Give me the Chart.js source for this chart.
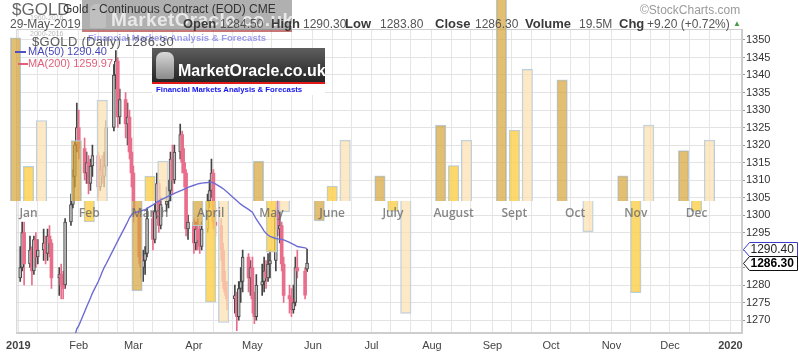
<!DOCTYPE html>
<html><head><meta charset="utf-8"><title>Gold seasonal</title>
<script src="https://cdn.jsdelivr.net/npm/chart.js@4.4.1/dist/chart.umd.min.js"></script>
<style>
html,body{margin:0;padding:0;background:#fff;}
#wrap{position:relative;width:799px;height:357px;overflow:hidden;background:#fff;font-family:"Liberation Sans",Arial,sans-serif;}
#c{position:absolute;left:0;top:0;width:799px;height:357px;}
.t{position:absolute;white-space:nowrap;line-height:1;}
.b{font-weight:bold;font-size:13px;color:#3a3a3a;}
.v{font-size:12px;color:#555;}
</style></head><body>
<div id="wrap">
<canvas id="c" width="799" height="357"></canvas>
<!-- faded logo (under header text) -->
<div class="t" style="left:82px;top:0px;width:210px;height:30px;background:rgba(80,80,80,0.45);border-bottom:2px solid rgba(225,60,60,0.5);"></div>
<div class="t" style="left:90px;top:4px;width:16px;height:24px;background:rgba(210,210,210,0.45);border-radius:6px 6px 2px 2px;"></div>
<div class="t" style="left:111px;top:10px;font-size:19px;font-weight:bold;color:rgba(255,255,255,0.72);letter-spacing:0.4px;">MarketOracle.co.uk</div>
<div class="t" style="left:88px;top:33px;font-size:9.5px;font-weight:bold;color:rgba(90,90,230,0.6);">Financial Markets Analysis &amp; Forecasts</div>
<!-- header text -->
<div class="t" style="left:12px;top:1px;font-size:17px;color:#666;">$GOLD</div>
<div class="t" style="left:63px;top:3px;font-size:12px;color:#333;">Gold - Continuous Contract (EOD) CME</div>
<div class="t" style="left:640px;top:4px;font-size:12px;color:#9a9a9a;">©StockCharts.com</div>
<div class="t" style="left:30px;top:14px;font-size:7px;color:rgba(140,140,140,0.6);">1960-2016</div>
<div class="t" style="left:30px;top:30px;font-size:7px;color:rgba(140,140,140,0.6);">2000-2016</div>
<div class="t v" style="left:10px;top:18px;">29-May-2019</div>
<div class="t b" style="left:183px;top:17px;">Open</div><div class="t v" style="left:220px;top:18px;">1284.50</div>
<div class="t b" style="left:271px;top:17px;">High</div><div class="t v" style="left:303px;top:18px;">1290.30</div>
<div class="t b" style="left:345px;top:17px;">Low</div><div class="t v" style="left:380px;top:18px;">1283.80</div>
<div class="t b" style="left:435px;top:17px;">Close</div><div class="t v" style="left:475px;top:18px;">1286.30</div>
<div class="t b" style="left:525px;top:17px;">Volume</div><div class="t v" style="left:579px;top:18px;">19.5M</div>
<div class="t b" style="left:619px;top:17px;">Chg</div><div class="t v" style="left:647px;top:18px;">+9.20 (+0.72%)</div>
<div class="t" style="left:733px;top:20px;font-size:8px;color:#4a9a4a;">▲</div>
<div class="t" style="left:32px;top:35px;font-size:13px;color:#5a5a5a;letter-spacing:0.3px;">$GOLD (Daily) 1286.30</div>
<div class="t" style="left:15px;top:51px;width:11px;height:2px;background:#5050c0;"></div>
<div class="t" style="left:28px;top:46px;font-size:11px;color:#4848b8;">MA(50) 1290.40</div>
<div class="t" style="left:18px;top:63px;width:10px;height:2px;background:#e0607a;"></div>
<div class="t" style="left:28px;top:58px;font-size:11px;color:#e0607a;">MA(200) 1259.97</div>
<!-- solid logo -->
<div class="t" style="left:152px;top:48px;width:173px;height:34px;background:linear-gradient(#5e5e5e,#242424);"></div>
<div class="t" style="left:156px;top:52px;width:18px;height:27px;background:linear-gradient(#d8d8d8,#8a8a8a);border-radius:7px 7px 2px 2px;"></div>
<div class="t" style="left:152px;top:82px;width:173px;height:2px;background:#e01818;"></div>
<div class="t" style="left:178px;top:63px;font-size:16px;font-weight:bold;color:#fff;">MarketOracle.co.uk</div>
<div class="t" style="left:152px;top:84px;width:173px;height:11px;background:#fff;"></div>
<div class="t" style="left:156px;top:86px;font-size:7.8px;font-weight:bold;color:#1414ee;">Financial Markets Analysis &amp; Forecasts</div>
</div>
<script>
// ---------- DATA ----------
const dates = [
 '2019-01-02','2019-01-03','2019-01-04','2019-01-07','2019-01-08','2019-01-09','2019-01-10','2019-01-11','2019-01-14','2019-01-15','2019-01-16','2019-01-17','2019-01-18','2019-01-22','2019-01-23','2019-01-24','2019-01-25','2019-01-28','2019-01-29','2019-01-30','2019-01-31',
 '2019-02-01','2019-02-04','2019-02-05','2019-02-06','2019-02-07','2019-02-08','2019-02-11','2019-02-12','2019-02-13','2019-02-14','2019-02-15','2019-02-19','2019-02-20','2019-02-21','2019-02-22','2019-02-25','2019-02-26','2019-02-27','2019-02-28',
 '2019-03-01','2019-03-04','2019-03-05','2019-03-06','2019-03-07','2019-03-08','2019-03-11','2019-03-12','2019-03-13','2019-03-14','2019-03-15','2019-03-18','2019-03-19','2019-03-20','2019-03-21','2019-03-22','2019-03-25','2019-03-26','2019-03-27','2019-03-28','2019-03-29',
 '2019-04-01','2019-04-02','2019-04-03','2019-04-04','2019-04-05','2019-04-08','2019-04-09','2019-04-10','2019-04-11','2019-04-12','2019-04-15','2019-04-16','2019-04-17','2019-04-18','2019-04-22','2019-04-23','2019-04-24','2019-04-25','2019-04-26','2019-04-29','2019-04-30',
 '2019-05-01','2019-05-02','2019-05-03','2019-05-06','2019-05-07','2019-05-08','2019-05-09','2019-05-10','2019-05-13','2019-05-14','2019-05-15','2019-05-16','2019-05-17','2019-05-20','2019-05-21','2019-05-22','2019-05-23','2019-05-24','2019-05-28','2019-05-29'
];
const open = [
 1282,1285,1295,1286,1290,1284,1293,1288,1290,1292,1289,1294,1292,1282,1283,1280,1280,1298,1303,1311,1320,
 1325,1319,1312,1315,1309,1314,1317,1308,1313,1311,1314,1325,1340,1344,1328,1333,1326,1328,1318,
 1312,1300,1288,1285,1287,1289,1299,1293,1301,1309,1297,1303,1304,1307,1316,1310,1318,1323,1315,1312,1296,
 1298,1292,1296,1293,1291,1296,1304,1307,1312,1298,1297,1290,1281,1278,1276,1277,1271,1279,1281,1288,1282,
 1285,1276,1271,1280,1281,1284,1282,1286,1287,1300,1296,1297,1286,1277,1276,1273,1275,1285,1284,1284.5
];
const high = [
 1291,1298,1298,1294,1291,1294,1295,1293,1296,1294,1296,1297,1293,1285,1286,1284,1299,1306,1313,1321,1332,
 1330,1322,1318,1317,1316,1320,1318,1316,1317,1318,1327,1343,1347,1345,1336,1335,1332,1330,1322,
 1314,1302,1291,1290,1291,1302,1301,1303,1312,1310,1305,1308,1310,1318,1320,1320,1326,1324,1319,1313,1300,
 1299,1298,1299,1297,1298,1306,1310,1316,1313,1302,1299,1292,1284,1281,1280,1278,1281,1285,1290,1289,1287,
 1288,1278,1283,1286,1288,1287,1289,1290,1302,1304,1301,1298,1288,1280,1279,1280,1288,1290,1285,1290.3
];
const low = [
 1281,1284,1280,1285,1280,1283,1285,1286,1287,1286,1287,1288,1279,1277,1276,1276,1279,1297,1302,1308,1318,
 1316,1310,1309,1306,1307,1311,1305,1307,1309,1308,1313,1324,1336,1325,1326,1322,1320,1316,1308,
 1298,1286,1282,1281,1283,1288,1290,1292,1299,1295,1296,1301,1302,1304,1306,1309,1316,1312,1308,1294,1293,
 1289,1290,1290,1289,1290,1295,1302,1305,1296,1294,1287,1279,1277,1273,1272,1267,1270,1275,1278,1278,1277,
 1272,1269,1270,1277,1278,1279,1281,1282,1284,1294,1292,1284,1275,1272,1271,1272,1274,1282,1276,1283.8
];
const close = [
 1285,1295,1286,1290,1284,1293,1288,1290,1292,1289,1294,1292,1282,1283,1280,1279,1298,1303,1311,1320,1325,
 1319,1312,1315,1309,1314,1317,1308,1313,1311,1314,1325,1340,1344,1328,1333,1326,1328,1318,1312,
 1300,1288,1285,1287,1289,1299,1293,1301,1309,1297,1303,1304,1307,1316,1310,1318,1323,1315,1312,1296,1298,
 1292,1296,1293,1291,1296,1304,1307,1312,1298,1297,1290,1281,1278,1276,1277,1271,1279,1281,1288,1282,1285,
 1276,1271,1280,1281,1284,1282,1286,1287,1300,1296,1297,1286,1277,1276,1273,1275,1285,1284,1277.1,1286.3
];
// MA(50) from 2019-01-24 onward (earlier values lie below the visible range)
const maStart = '2019-01-24';
const ma50 = [
 1258,1259.5,1262.5,1264,1265.5,1267.5,
 1268.4,1272.4,1273.7,1275,1276.3,1277.7,1281,1282.3,1283.7,1285,1286,1290.4,1291.5,1292.6,1293.7,1296.9,1298,1299.2,1300,
 1300.6,1301,1301.2,1301.4,1301.5,1301.9,1302.9,1303.3,1303.6,1304,1304.3,1305.1,1305.4,1305.7,1305.9,1306.2,1306.9,1307.1,1307.4,1307.6,1307.9,
 1308.5,1308.7,1308.9,1309,1309.1,1309.3,1309.4,1309.4,1309.2,1308.9,1307.9,1307.5,1307.1,1306.6,1304.6,1304.1,1303.6,1303.1,1302.7,1301.6,1301.2,
 1300.8,1299.8,1298.8,1296.3,1295.4,1294.8,1294.3,1293.9,1293.3,1293.2,1293.1,1293,1292.9,1292.2,1291.9,1291.6,1291.3,1291,1290.6,1290.4
];
// Seasonal overlay bars (offset from the overlay baseline, in price units)
const seasonMonths = ['Jan','Feb','March','April','May','June','July','August','Sept','Oct','Nov','Dec'];
const seasonA = [46.6, 17.3, -25.7, -7.1, 11.4, -5.7, 7.2, 21.7, 58, 34.6, 7.2, 14.4];
const seasonB = [9.9, -6.0, 7.1, -28.9, -14.6, 4.3, -3.0, 10.1, 20.3, 0, -26.2, -3.0];
const seasonC = [23.0, 28.8, 11.4, -34.7, -3.1, 17.4, -32.1, 17.4, 37.6, -8.8, 21.7, 17.4];
const seasonBase = 1304;
// Axis ticks
const xTickLabels = ['2019','Feb','Mar','Apr','May','Jun','Jul','Aug','Sep','Oct','Nov','Dec','2020'];
const yTicks = [1270,1275,1280,1285,1290,1295,1300,1305,1310,1315,1320,1325,1330,1335,1340,1345,1350];
const yHiddenLabels = [1285,1290];
const priceMarkers = [
  {value:1290.40, color:'#3c3cc8', text:'#222', bold:false},
  {value:1286.30, color:'#111', text:'#000', bold:true}
];

// ---------- helpers ----------
const DAY = 86400000;
const origin = Date.UTC(2019,0,1);
function dayOf(s){ const p=s.split('-').map(Number); return (Date.UTC(p[0],p[1]-1,p[2])-origin)/DAY; }
const dayX = dates.map(dayOf);
const monthStarts = xTickLabels.map((_,m)=> (Date.UTC(2019,m,1)-origin)/DAY);
const xGrid = [];
monthStarts.forEach((d,i)=>{ xGrid.push(d); if(i<12){ xGrid.push(d+10); xGrid.push(d+20);} });
const maIdx = dates.indexOf(maStart);
const maData = ma50.map((v,i)=>({x:dayX[maIdx+i], y:v}));
const up = close.map((c,i)=> c>=open[i]);

const UPFILL='#bdbdbd', UPLINE='#444', DNFILL='#e96e8b', DNLINE='#e05a78';

// layout of the seasonal overlay: month groups 61px apart, three bar slots 13px apart
const AREA_L = 13, AREA_W = 729, GROUP_PX = 61, SLOT_PX = 13, CENTER0 = 25.3;
function seasonAxis(slot){
  const c0 = CENTER0 + slot*SLOT_PX;
  const min = -(c0-AREA_L)/GROUP_PX;
  return { type:'linear', display:false, offset:false, min:min, max:min+AREA_W/GROUP_PX, grid:{offset:false} };
}

const frame = {
  id:'frame',
  beforeDatasetsDraw(chart){
    const {ctx, chartArea:a} = chart;
    ctx.save(); ctx.strokeStyle='#cdcdcd'; ctx.lineWidth=1;
    ctx.strokeRect(a.left+0.5, a.top+0.5, a.right-a.left-1, a.bottom-a.top-1);
    ctx.restore();
  }
};
const seasonLabels = {
  id:'seasonLabels',
  afterDatasetsDraw(chart){
    const {ctx, scales:{xs1,y2}} = chart;
    ctx.save();
    ctx.font='600 12px "Open Sans"';
    ctx.fillStyle='rgba(105,105,105,0.8)';
    ctx.textAlign='center'; ctx.textBaseline='middle';
    seasonMonths.forEach((m,k)=> ctx.fillText(m, xs1.getPixelForValue(k), y2.getPixelForValue(0)+13));
    ctx.restore();
  }
};
const markers = {
  id:'markers',
  afterDraw(chart){
    const {ctx, chartArea:a, scales:{y}} = chart;
    ctx.save();
    priceMarkers.forEach(m=>{
      const py = Math.round(y.getPixelForValue(m.value))+0.5;
      const x0 = a.right+1.5, x1 = x0+6, x2 = 797.5, h=7;
      ctx.beginPath();
      ctx.moveTo(x0,py); ctx.lineTo(x1,py-h); ctx.lineTo(x2,py-h); ctx.lineTo(x2,py+h); ctx.lineTo(x1,py+h); ctx.closePath();
      ctx.fillStyle='#fff'; ctx.fill();
      ctx.strokeStyle=m.color; ctx.lineWidth=1; ctx.stroke();
      ctx.fillStyle=m.text; ctx.textBaseline='middle'; ctx.textAlign='left';
      ctx.font=(m.bold?'bold ':'')+'12px "Liberation Sans", Arial';
      ctx.fillText(m.value.toFixed(2), x1+1, py+0.5);
    });
    ctx.restore();
  }
};

Chart.defaults.font.family='"Liberation Sans", Arial, sans-serif';

const seasonCommon = { yAxisID:'y2', borderColor:'#b6cfe6', borderWidth:1, grouped:false, barThickness:10.5, clip:false, order:1 };

new Chart(document.getElementById('c'), {
  type:'bar',
  data:{
    datasets:[
      { type:'line', label:'MA(50)', data:maData, xAxisID:'x', yAxisID:'y', borderColor:'#6c6cd4', borderWidth:1.4, pointRadius:0, tension:0, order:0 },
      Object.assign({ label:'A', xAxisID:'xs0', data:seasonA.map((v,k)=>({x:k,y:v})), backgroundColor:'rgba(214,164,56,0.7)' }, seasonCommon),
      Object.assign({ label:'B', xAxisID:'xs1', data:seasonB.map((v,k)=>({x:k,y:v})), backgroundColor:'rgba(253,206,72,0.8)' }, seasonCommon),
      Object.assign({ label:'C', xAxisID:'xs2', data:seasonC.map((v,k)=>({x:k,y:v})), backgroundColor:'rgba(252,224,176,0.72)' }, seasonCommon),
      { label:'body', data:dayX.map((d,i)=>({x:d,y:[open[i],close[i]]})), xAxisID:'x', yAxisID:'y', grouped:false, barThickness:3,
        backgroundColor:up.map(u=>u?UPFILL:DNFILL), borderColor:up.map(u=>u?UPLINE:DNLINE), borderWidth:up.map(u=>u?1:0), borderSkipped:false, order:2 },
      { label:'wick', data:dayX.map((d,i)=>({x:d,y:[low[i],high[i]]})), xAxisID:'x', yAxisID:'y', grouped:false, barThickness:1,
        backgroundColor:up.map(u=>u?UPLINE:DNFILL), borderWidth:0, order:3 }
    ]
  },
  options:{
    responsive:false, devicePixelRatio:1, animation:false, events:[],
    layout:{ padding:{left:13, top:29, right:0, bottom:0}, autoPadding:false },
    plugins:{ legend:{display:false}, tooltip:{enabled:false}, title:{display:false} },
    scales:{
      x:{ type:'linear', position:'bottom', min:-1.02, max:370.9, offset:false,
          afterBuildTicks:s=>{ s.ticks = xGrid.map(v=>({value:v})); },
          afterFit:s=>{ s.height=24; },
          ticks:{ autoSkip:false, maxRotation:0, minRotation:0, padding:6, color:'#444',
                  font:ctx=>({size:11, weight:(ctx.tick && (ctx.tick.value===monthStarts[0]||ctx.tick.value===monthStarts[12]))?'bold':'normal'}),
                  callback:v=>{ const i=monthStarts.indexOf(v); return i>=0?xTickLabels[i]:''; } },
          grid:{ color:'#e6e6e6', drawTicks:false, offset:false },
          border:{ display:true, color:'#cdcdcd' } },
      xs0: seasonAxis(-1),
      xs1: seasonAxis(0),
      xs2: seasonAxis(1),
      y:{ type:'linear', position:'right', min:1266.3, max:1353.14,
          afterBuildTicks:s=>{ s.ticks = yTicks.map(v=>({value:v})); },
          afterFit:s=>{ s.width=57; },
          ticks:{ padding:1, color:'#333', font:{size:11}, callback:v=> yHiddenLabels.includes(v)?'':String(v) },
          grid:{ color:'#e3e3e3', tickLength:3, tickColor:'#999' },
          border:{ display:true, color:'#cdcdcd' } },
      y2:{ type:'linear', display:false, position:'right', min:1266.3-seasonBase, max:1353.14-seasonBase, grid:{display:false} }
    }
  },
  plugins:[frame, seasonLabels, markers]
});
</script>
</body></html>
